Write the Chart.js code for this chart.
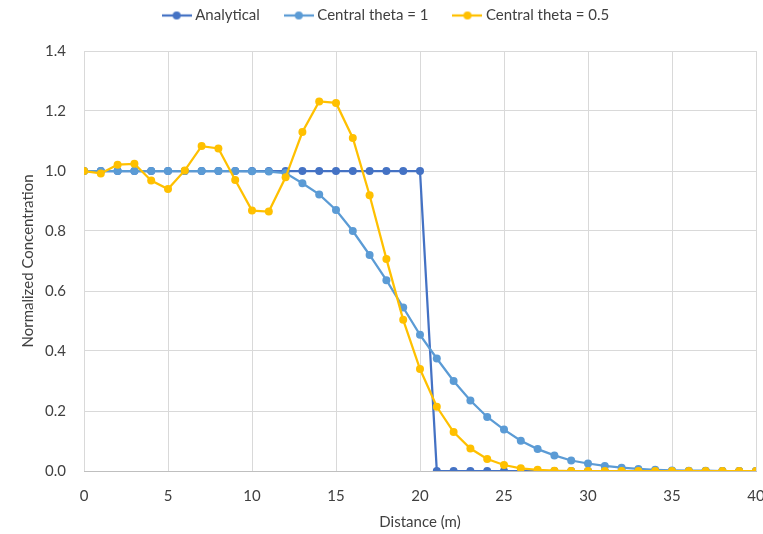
<!DOCTYPE html>
<html>
<head>
<meta charset="utf-8">
<script src="https://cdn.jsdelivr.net/npm/chart.js@4"></script>
<style>
  html, body { margin: 0; padding: 0; background: #fff; }
  #wrap { width: 763px; height: 534px; }
</style>
</head>
<body>
<div id="wrap"><canvas id="chart" width="763" height="534"></canvas></div>
<script>
const distance = [];
for (let i = 0; i <= 40; i++) distance.push(i);

const analytical = [1, 1, 1, 1, 1, 1, 1, 1, 1, 1, 1, 1, 1, 1, 1, 1, 1, 1, 1, 1, 1,
  0, 0, 0, 0, 0, 0, 0, 0, 0, 0, 0, 0, 0, 0, 0, 0, 0, 0, 0, 0];
const theta1 = [1, 1, 1, 1, 1, 1, 1, 1, 1, 1, 0.999, 0.998, 0.993, 0.959, 0.922, 0.870,
  0.800, 0.720, 0.636, 0.545, 0.454, 0.375, 0.300, 0.235, 0.180, 0.138, 0.101, 0.073,
  0.052, 0.035, 0.025, 0.017, 0.011, 0.007, 0.004, 0.002, 0.001, 0.001, 0, 0, 0];
const theta05 = [1, 0.992, 1.021, 1.024, 0.968, 0.940, 1.002, 1.083, 1.075, 0.970,
  0.868, 0.865, 0.979, 1.130, 1.232, 1.227, 1.110, 0.919, 0.707, 0.504, 0.340, 0.214,
  0.130, 0.075, 0.040, 0.020, 0.009, 0.004, 0.001, 0, 0, 0, 0, 0, 0, 0, 0, 0, 0, 0, 0];

const xTicks = [0, 5, 10, 15, 20, 25, 30, 35, 40];
const yTicks = [0, 0.2, 0.4, 0.6, 0.8, 1.0, 1.2, 1.4];

const seriesNames = ["Analytical", "Central theta = 1", "Central theta = 0.5"];
const seriesColors = ["#4472C4", "#5B9BD5", "#FFC000"];
const seriesData = [analytical, theta1, theta05];

// legend swatch: a short line with a dot in the middle
function swatch(color) {
  const c = document.createElement("canvas");
  c.width = 30; c.height = 10;
  const g = c.getContext("2d");
  g.strokeStyle = color; g.lineWidth = 2.25;
  g.beginPath(); g.moveTo(0, 5); g.lineTo(30, 5); g.stroke();
  g.fillStyle = color;
  g.beginPath(); g.arc(15, 5, 4, 0, Math.PI * 2); g.fill();
  return c;
}

const datasets = seriesNames.map((name, k) => ({
  label: name,
  data: seriesData[k].map((v, i) => ({ x: distance[i], y: v })),
  borderColor: seriesColors[k],
  backgroundColor: seriesColors[k],
  borderWidth: 2.25,
  pointRadius: 4,
  pointBorderWidth: 0,
  pointStyle: "circle",
  tension: 0,
  order: 3 - k   // later series drawn on top, like Excel
}));

const font = { family: "Lato, 'Open Sans', sans-serif", size: 15 };
const textColor = "#404040";

// keep the plot area where the reference has it
const legendGap = {
  id: "legendGap",
  beforeInit(chart) {
    const fit = chart.legend.fit;
    chart.legend.fit = function () {
      fit.call(this);
      this.height = 71;
    };
  }
};

new Chart(document.getElementById("chart"), {
  type: "line",
  data: { datasets },
  plugins: [legendGap],
  options: {
    responsive: false,
    animation: false,
    layout: { padding: { left: 19, right: 7, top: -20, bottom: 0 } },
    plugins: {
      tooltip: { enabled: false },
      legend: {
        position: "top",
        labels: {
          color: textColor,
          font: font,
          padding: 28,
          usePointStyle: true,
          pointStyleWidth: 22,
          sort: (a, b) => a.datasetIndex - b.datasetIndex,
          generateLabels: chart => chart.data.datasets.map((d, i) => ({
            text: d.label,
            datasetIndex: i,
            pointStyle: swatch(seriesColors[i]),
            fontColor: textColor,
            lineWidth: 0,
            strokeStyle: "transparent",
            fillStyle: seriesColors[i]
          }))
        }
      }
    },
    scales: {
      x: {
        type: "linear",
        min: 0,
        max: 40,
        afterBuildTicks: axis => { axis.ticks = xTicks.map(v => ({ value: v })); },
        afterFit: axis => { axis.height = 63; axis.paddingRight = 0; axis.paddingLeft = 0; },
        ticks: { color: textColor, font: font, padding: 16, maxRotation: 0 },
        grid: { color: "#d9d9d9", lineWidth: 1, drawTicks: false },
        border: { color: "#bfbfbf" },
        title: { display: true, text: "Distance (m)", color: textColor, font: font, padding: { top: 0, bottom: 3 } }
      },
      y: {
        min: 0,
        max: 1.4,
        afterBuildTicks: axis => { axis.ticks = yTicks.map(v => ({ value: v })); },
        afterFit: axis => { axis.width = 65; axis.paddingTop = 0; axis.paddingBottom = 0; },
        ticks: { color: textColor, font: font, padding: 18, callback: v => v.toFixed(1) },
        grid: { color: "#d9d9d9", lineWidth: 1, drawTicks: false },
        border: { display: false },
        title: { display: true, text: "Normalized Concentration", color: textColor, font: font, padding: { top: 0, bottom: 0 } }
      }
    }
  }
});
</script>
</body>
</html>
